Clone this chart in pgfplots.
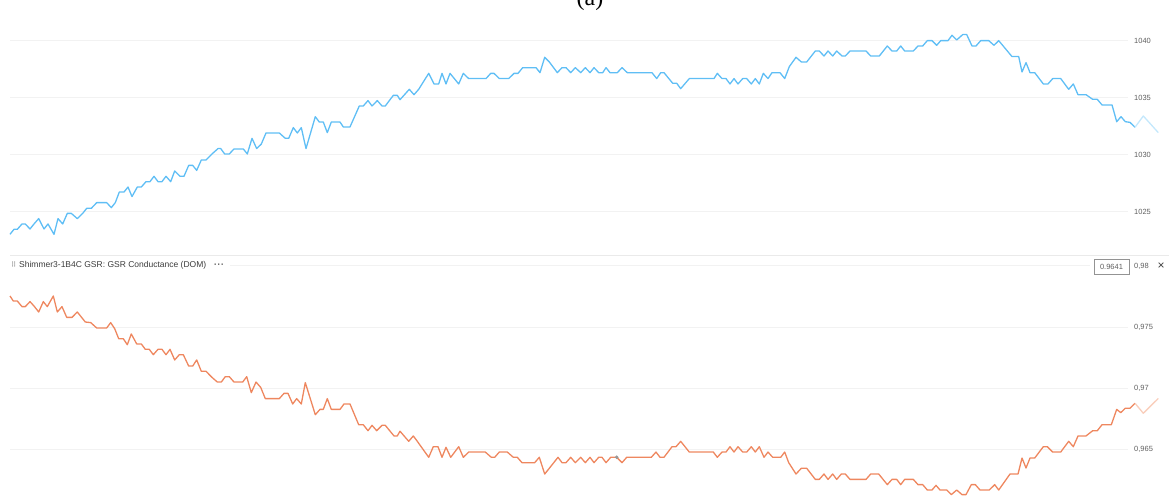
\documentclass[border=0pt]{standalone}
\usepackage{fontspec}
\setmainfont{Liberation Sans}
\newfontfamily\capfont{Liberation Serif}
\newfontfamily\symfont{DejaVu Sans}
\usepackage{pgfplots}
\pgfplotsset{compat=1.18}

\definecolor{gsrblue}{RGB}{95,190,245}
\definecolor{gsrbluefade}{RGB}{196,232,252}
\definecolor{gsrorange}{RGB}{238,135,95}
\definecolor{gsrorangefade}{RGB}{249,206,188}
\definecolor{gridc}{RGB}{242,242,242}
\definecolor{sepc}{RGB}{234,234,234}
\definecolor{tickgray}{RGB}{95,95,95}
\definecolor{headgray}{RGB}{60,60,60}

\pgfplotsset{
  panel/.style={
    scale only axis, width=1169pt, xmin=0, xmax=1169,
    axis line style={draw=none}, xtick=\empty,
    yticklabel pos=right, major tick length=0pt,
    /pgf/number format/assume math mode=true,
    yticklabel style={anchor=west, inner sep=0pt, xshift=-35pt,
      font=\fontsize{7.5}{9}\selectfont, text=tickgray},
    clip=false,
  },
}

\begin{document}
\begin{tikzpicture}[x=1pt,y=1pt]
\path[use as bounding box] (0pt,0pt) rectangle (1169pt,495pt);
\clip (0pt,0pt) rectangle (1169pt,495pt);

% figure caption, partly cut by the top edge
\node[anchor=base, inner sep=0pt, font=\capfont\fontsize{24}{28}\selectfont] at (590pt,489pt) {(a)};

% ---------------- upper panel ----------------
\begin{axis}[panel, at={(0pt,239pt)}, anchor=south west, height=236pt,
  ymin=1021.14, ymax=1041.84, ytick={1025,1030,1035,1040},
  yticklabel style={/pgf/number format/1000 sep={}}]
\pgfplotsinvokeforeach{1025,1030,1035,1040}{
  \draw[gridc, line width=1pt] (axis cs:10,#1) -- (axis cs:1128,#1);
}
\addplot[gsrblue, line width=1.3pt, line join=round] coordinates {
(10,1023.04) (14,1023.48) (17.3,1023.48) (22,1023.95) (25.3,1023.95)
(30,1023.51) (34,1023.95) (38.7,1024.42) (44,1023.51) (48,1023.95)
(54,1023.04) (58,1024.42) (62.7,1023.95) (67.3,1024.88) (71.3,1024.88)
(77.3,1024.42) (82.7,1024.88) (86.7,1025.32) (91.3,1025.32) (96.7,1025.82)
(106.7,1025.82) (111.3,1025.38) (115.3,1025.82) (119.3,1026.75) (124,1026.75)
(128,1027.19) (132,1026.35) (137.3,1027.19) (141.3,1027.19) (146,1027.66)
(150,1027.66) (154,1028.13) (158,1027.66) (162,1027.66) (166,1028.13)
(170.7,1027.66) (174.7,1028.60) (180,1028.13) (184,1028.13) (188.7,1029.09)
(192.7,1029.09) (196.7,1028.65) (201.3,1029.56) (206,1029.56) (212,1030.09)
(218,1030.56) (220.7,1030.56) (224.7,1030.09) (229.3,1030.09) (234,1030.53)
(243.3,1030.53) (247.3,1030.09) (252,1031.46) (256.7,1030.56) (261.3,1030.96)
(266,1031.93) (279.3,1031.93) (285.3,1031.46) (288.7,1031.46) (293.3,1032.40)
(297.3,1031.93) (301.3,1032.40) (306,1030.56) (315.3,1033.36) (319.3,1032.89)
(323.3,1032.89) (327.3,1031.96) (331.3,1032.89) (340,1032.89) (343.3,1032.46)
(350,1032.46) (359.3,1034.30) (363.3,1034.30) (368,1034.77) (372,1034.30)
(377.3,1034.77) (382,1034.30) (385.3,1034.30) (393.3,1035.23) (397.3,1035.23)
(400,1034.85) (409.3,1035.76) (414,1035.29) (418.7,1035.76) (428.7,1037.16)
(434,1036.23) (438.7,1036.23) (442,1037.16) (446,1036.23) (450,1037.16)
(458.7,1036.23) (463.3,1037.16) (468.7,1036.70) (486,1036.70) (490.7,1037.16)
(494,1037.16) (499.3,1036.70) (508.7,1036.70) (514,1037.16) (518,1037.16)
(522.7,1037.66) (536,1037.66) (540,1037.22) (544.7,1038.57) (549.3,1038.16)
(557.3,1037.22) (562,1037.66) (566,1037.66) (570.7,1037.22) (575.3,1037.66)
(580.7,1037.22) (585.3,1037.66) (590,1037.22) (594,1037.66) (598.7,1037.22)
(602.7,1037.22) (606,1037.66) (610,1037.22) (617.3,1037.22) (622,1037.66)
(627.3,1037.22) (652,1037.22) (656.7,1036.70) (660.7,1037.22) (664,1037.22)
(672.7,1036.29) (676.7,1036.29) (680.7,1035.82) (689.3,1036.70) (714,1036.70)
(717.3,1037.16) (722,1036.70) (726,1036.70) (730,1036.23) (734,1036.70)
(738,1036.23) (742.7,1036.70) (746.7,1036.70) (751.3,1036.23) (755.3,1036.70)
(759.3,1036.23) (763.3,1037.16) (768,1036.70) (772,1037.22) (780,1037.22)
(784.7,1036.70) (789.3,1037.75) (796,1038.57) (801.3,1038.16) (806.7,1038.16)
(815.3,1039.12) (819.3,1039.12) (824,1038.68) (828,1039.12) (832.7,1038.68)
(836.7,1039.12) (842,1038.68) (845.3,1038.68) (850,1039.12) (866,1039.12)
(870.7,1038.68) (879.3,1038.68) (887.3,1039.56) (892,1039.12) (896.7,1039.12)
(900.7,1039.56) (904.7,1039.12) (913.3,1039.12) (918,1039.56) (922.7,1039.56)
(927.3,1040.03) (932,1040.03) (936.7,1039.62) (940.7,1040.03) (948,1040.03)
(952,1040.50) (956.7,1040.09) (962.7,1040.56) (966.7,1040.56) (972,1039.56)
(976,1039.56) (980.7,1040.03) (988.7,1040.03) (994,1039.62) (998.7,1040.03)
(1012,1038.63) (1018.7,1038.63) (1022,1037.28) (1026,1038.10) (1030,1037.22)
(1034.7,1037.22) (1043.3,1036.23) (1048,1036.23) (1052.7,1036.70) (1060.7,1036.70)
(1068.7,1035.76) (1073.3,1036.23) (1078,1035.29) (1086,1035.29) (1092.7,1034.88)
(1097.3,1034.88) (1102,1034.39) (1112,1034.39) (1116.7,1032.92) (1121,1033.36)
(1125.3,1032.92) (1130,1032.86) (1135,1032.43)
};
% most recent samples, drawn faded
\addplot[gsrbluefade, line width=1.3pt, line join=round] coordinates {
(1135,1032.43) (1143.3,1033.42) (1158.3,1031.96)
};
\end{axis}

% panel separator
\draw[sepc, line width=1pt] (10pt,239pt) -- (1169pt,239pt);

% ---------------- lower panel ----------------
\begin{axis}[panel, at={(0pt,0pt)}, anchor=south west, height=238pt,
  ymin=0.961230, ymax=0.980738, ytick={0.965,0.97,0.975,0.98},
  yticklabel style={/pgf/number format/fixed, /pgf/number format/precision=3, /pgf/number format/use comma}]
\pgfplotsinvokeforeach{0.965,0.97,0.975}{
  \draw[gridc, line width=1pt] (axis cs:10,#1) -- (axis cs:1128,#1);
}
\draw[gridc, line width=1pt] (axis cs:230,0.98) -- (axis cs:1090,0.98);
\addplot[gsrorange, line width=1.3pt, line join=round] coordinates {
(10,0.97754) (13.3,0.97713) (17.3,0.97713) (22,0.97667) (25.3,0.97667)
(30,0.97708) (34,0.97672) (38.7,0.97623) (43.3,0.97708) (47.3,0.97667)
(53.3,0.97754) (57.3,0.97623) (62,0.97667) (66.7,0.97579) (72,0.97579)
(77.3,0.97623) (85.3,0.97541) (90.7,0.97536) (96.7,0.97492) (106.7,0.97492)
(110.7,0.97536) (114.7,0.97486) (118.7,0.97404) (123.3,0.97404) (127.3,0.97355)
(131.3,0.97443) (136.7,0.97361) (141.3,0.97361) (145.3,0.97317) (149.3,0.97317)
(153.3,0.97273) (158,0.97317) (162,0.97317) (166,0.97273) (170,0.97317)
(174.7,0.97230) (179.3,0.97273) (183.3,0.97273) (188.7,0.97180) (192.7,0.97180)
(196.7,0.97230) (201.3,0.97137) (206,0.97137) (212,0.97087) (217.3,0.97049)
(221.3,0.97049) (225.3,0.97093) (229.3,0.97093) (234,0.97049) (242.7,0.97049)
(246.7,0.97093) (251.3,0.96962) (256,0.97049) (260.7,0.97005) (265.3,0.96913)
(279.3,0.96913) (284,0.96956) (288,0.96956) (292.7,0.96869) (296.7,0.96913)
(301.3,0.96869) (305.3,0.97044) (315.3,0.96781) (320,0.96825) (323.3,0.96825)
(327.3,0.96913) (331.3,0.96825) (340,0.96825) (344,0.96869) (350,0.96869)
(358.7,0.96699) (363.3,0.96699) (368,0.96650) (372,0.96694) (376.7,0.96650)
(382,0.96694) (385.3,0.96694) (394,0.96607) (397.3,0.96607) (400,0.96646)
(408.7,0.96563) (413.3,0.96607) (417.3,0.96563) (428.7,0.96432) (433.3,0.96519)
(438,0.96519) (442,0.96432) (446,0.96514) (450.7,0.96432) (458.7,0.96519)
(463.3,0.96432) (468.7,0.96475) (485.3,0.96475) (491.3,0.96432) (494.7,0.96432)
(499.3,0.96475) (507.3,0.96475) (513.3,0.96432) (517.3,0.96432) (522,0.96388)
(534.7,0.96388) (539.3,0.96432) (544.7,0.96295) (549.3,0.96342) (558,0.96432)
(562,0.96388) (566,0.96388) (570.7,0.96432) (575.3,0.96388) (580.7,0.96432)
(585.3,0.96388) (590,0.96432) (594,0.96388) (598.7,0.96432) (602,0.96432)
(606,0.96388) (610.7,0.96432) (616.7,0.96432) (622,0.96388) (626.7,0.96432)
(651.3,0.96432) (656,0.96475) (660,0.96432) (664,0.96432) (672,0.96519)
(676,0.96519) (680.7,0.96563) (689.3,0.96475) (713.3,0.96475) (717.3,0.96432)
(722,0.96475) (726,0.96475) (730,0.96519) (734,0.96475) (738,0.96519)
(742.7,0.96475) (746.7,0.96475) (751.3,0.96519) (755.3,0.96475) (759.3,0.96519)
(764,0.96432) (768,0.96475) (772.7,0.96432) (780.7,0.96432) (784.7,0.96475)
(788.7,0.96388) (796,0.96295) (801.3,0.96342) (806.7,0.96342) (815.3,0.96251)
(819.3,0.96251) (824,0.96295) (828,0.96251) (832.7,0.96295) (836.7,0.96251)
(841.3,0.96295) (845.3,0.96295) (850,0.96251) (866,0.96251) (870.7,0.96295)
(878.7,0.96295) (887.3,0.96208) (892,0.96251) (896.7,0.96251) (900.7,0.96208)
(904.7,0.96251) (913.3,0.96251) (918,0.96208) (922.7,0.96208) (927.3,0.96164)
(932,0.96164) (936,0.96202) (940,0.96164) (946.7,0.96164) (951.3,0.96126)
(956.7,0.96164) (962,0.96126) (966,0.96126) (971.3,0.96208) (975.3,0.96208)
(980,0.96164) (989.3,0.96164) (994.7,0.96208) (998.7,0.96164) (1010,0.96295)
(1018,0.96295) (1022,0.96426) (1026,0.96344) (1030,0.96426) (1034.7,0.96426)
(1043.3,0.96519) (1047.3,0.96519) (1052.7,0.96475) (1060.7,0.96475) (1068.7,0.96563)
(1073.3,0.96519) (1078,0.96607) (1086,0.96607) (1092.7,0.96650) (1097.3,0.96650)
(1102,0.96699) (1111.3,0.96699) (1116.7,0.96825) (1120.7,0.96798) (1125.3,0.96834)
(1130,0.96834) (1135,0.96875)
};
\addplot[gsrorangefade, line width=1.3pt, line join=round] coordinates {
(1135,0.96875) (1143.3,0.96793) (1158.3,0.96915)
};
% cursor position on the trace
\addplot[only marks, mark=*, mark size=1.6pt, color=gray!80] coordinates {(616.7,0.96432)};
\end{axis}

% panel header
\node[anchor=base west, inner sep=0pt, text=gray, font=\symfont\fontsize{7}{8}\selectfont] at (11pt,227.5pt) {⠿};
\node[anchor=base west, inner sep=0pt, text=headgray, font=\fontsize{8.5}{10}\selectfont] at (19pt,227.5pt) {Shimmer3-1B4C GSR: GSR Conductance (DOM)};
\node[anchor=base west, inner sep=0pt, text=headgray, font=\bfseries\fontsize{8.5}{10}\selectfont] at (214pt,227.5pt) {·\kern0.6pt·\kern0.6pt·};

% value box and close button
\draw[gray!85, line width=0.7pt, fill=white] (1094pt,221pt) rectangle (1129pt,236pt);
\node[inner sep=0pt, text=tickgray, font=\fontsize{7.5}{9}\selectfont] at (1111.5pt,228.5pt) {0.9641};
\node[inner sep=0pt, text=headgray, font=\fontsize{12}{12}\selectfont] at (1161pt,229pt) {×};
\end{tikzpicture}
\end{document}
